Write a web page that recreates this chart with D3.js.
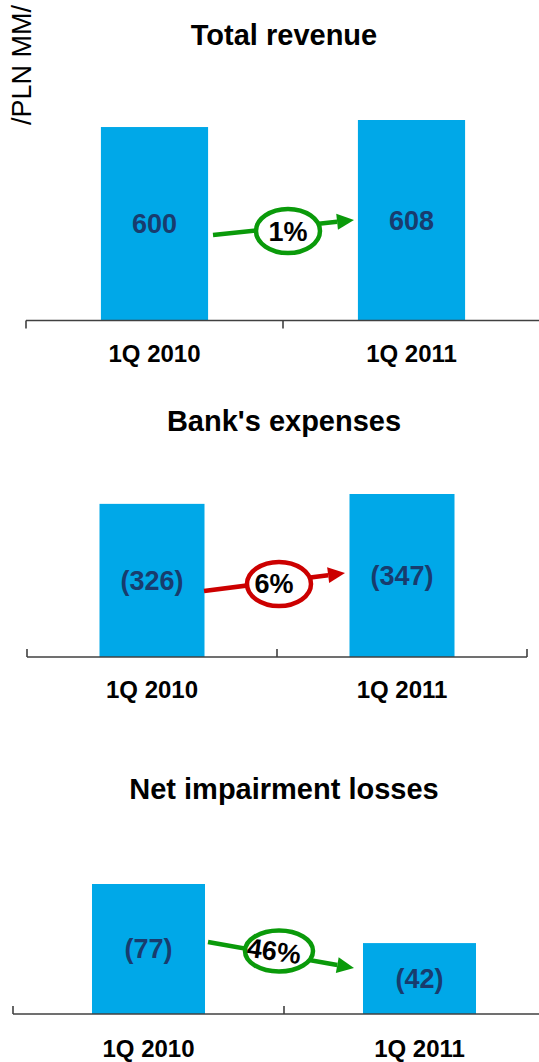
<!DOCTYPE html>
<html>
<head>
<meta charset="utf-8">
<script src="https://cdn.jsdelivr.net/npm/d3@7"></script>
<style>
  html, body { margin: 0; padding: 0; background: #fff; }
  svg { display: block; font-family: "Liberation Sans", Arial, sans-serif; }
</style>
</head>
<body>
<svg id="chart" width="539" height="1062"></svg>
<script>
// Quarterly figures, PLN MM
const categories = ["1Q 2010", "1Q 2011"];
const revenue = [600, 608];
const expenses = [326, 347];
const impairments = [77, 42];
const titles = ["Total revenue", "Bank's expenses", "Net impairment losses"];
const changes = ["1%", "6%", "46%"];
const unitLabel = "/PLN MM/";

const BAR = "#00A8E8";
const VALUE_TXT = "#183C6E";
const GREEN = "#0A9A0A";
const RED = "#CC0000";
const AXIS = "#404040";

const svg = d3.select("#chart");

// Layout of each small chart
const panels = [
  {
    values: revenue, title: titles[0], change: changes[0], paren: false,
    xRange: [26, 540], yBase: 320.5, yTop: 120, yMin: 380,
    titleY: 45, catY: 362, tickDir: 1, pad: 0.583,
    arrow: { color: GREEN, x0: 213, y0: 235, x1: 354, y1: 220, cx: 288, cy: 231, rx: 32, ry: 22, tx: 288, ty: 232, rot: 0 }
  },
  {
    values: expenses, title: titles[1], change: changes[1], paren: true,
    xRange: [27, 527], yBase: 657, yTop: 494, yMin: 0,
    titleY: 431, catY: 698, tickDir: -1, pad: 0.58,
    arrow: { color: RED, x0: 204, y0: 591, x1: 345, y1: 573, cx: 279, cy: 584, rx: 32, ry: 22, tx: 274, ty: 584, rot: 0 }
  },
  {
    values: impairments, title: titles[2], change: changes[2], paren: true,
    xRange: [13, 555], yBase: 1014, yTop: 884, yMin: 0,
    titleY: 799, catY: 1057, tickDir: -1, pad: 0.583,
    arrow: { color: GREEN, x0: 208, y0: 942, x1: 354, y1: 968, cx: 279, cy: 951, rx: 34, ry: 20.5, tx: 274, ty: 951, rot: 8 }
  }
];

panels.forEach(p => {
  const g = svg.append("g");

  const x = d3.scaleBand()
    .domain(categories)
    .range(p.xRange)
    .paddingInner(p.pad)
    .paddingOuter(p.pad / 2);

  const y = d3.scaleLinear()
    .domain([p.yMin, d3.max(p.values)])
    .range([p.yBase, p.yTop]);

  // title
  g.append("text")
    .attr("x", 284).attr("y", p.titleY)
    .attr("text-anchor", "middle")
    .attr("font-size", 29).attr("font-weight", "bold")
    .attr("fill", "#000")
    .text(p.title);

  // bars
  g.selectAll("rect.bar")
    .data(p.values)
    .join("rect")
    .attr("class", "bar")
    .attr("x", (d, i) => x(categories[i]))
    .attr("width", x.bandwidth())
    .attr("y", d => y(d))
    .attr("height", d => p.yBase - y(d))
    .attr("fill", BAR);

  // value labels in the middle of each bar
  g.selectAll("text.val")
    .data(p.values)
    .join("text")
    .attr("class", "val")
    .attr("x", (d, i) => x(categories[i]) + x.bandwidth() / 2)
    .attr("y", d => (y(d) + p.yBase) / 2)
    .attr("dy", "0.35em")
    .attr("text-anchor", "middle")
    .attr("font-size", 27).attr("font-weight", "bold")
    .attr("fill", VALUE_TXT)
    .text(d => p.paren ? `(${d})` : `${d}`);

  // category axis: baseline with ticks on band boundaries
  const [r0, r1] = x.range();
  const step = x.step();
  const bounds = d3.range(categories.length + 1).map(i => r0 + i * step);
  g.append("line")
    .attr("x1", r0).attr("x2", r1)
    .attr("y1", p.yBase).attr("y2", p.yBase)
    .attr("stroke", AXIS).attr("stroke-width", 1.6);
  g.selectAll("line.tick")
    .data(bounds)
    .join("line")
    .attr("class", "tick")
    .attr("x1", d => d).attr("x2", d => d)
    .attr("y1", p.yBase).attr("y2", p.yBase + p.tickDir * 8)
    .attr("stroke", AXIS).attr("stroke-width", 1.6);

  g.selectAll("text.cat")
    .data(categories)
    .join("text")
    .attr("class", "cat")
    .attr("x", d => x(d) + x.bandwidth() / 2)
    .attr("y", p.catY)
    .attr("text-anchor", "middle")
    .attr("font-size", 24).attr("font-weight", "bold")
    .attr("fill", "#000")
    .text(d => d);

  // change arrow with ringed percentage
  const a = p.arrow;
  const ang = Math.atan2(a.y1 - a.y0, a.x1 - a.x0);
  const headLen = 17, headHalf = 8;
  const bx = a.x1 - headLen * Math.cos(ang), by = a.y1 - headLen * Math.sin(ang);
  g.append("line")
    .attr("x1", a.x0).attr("y1", a.y0)
    .attr("x2", bx).attr("y2", by)
    .attr("stroke", a.color).attr("stroke-width", 4.5);
  g.append("path")
    .attr("d", d3.line()([
      [a.x1, a.y1],
      [bx + headHalf * Math.sin(ang), by - headHalf * Math.cos(ang)],
      [bx - headHalf * Math.sin(ang), by + headHalf * Math.cos(ang)]
    ]) + "Z")
    .attr("fill", a.color);
  g.append("ellipse")
    .attr("cx", a.cx).attr("cy", a.cy)
    .attr("rx", a.rx).attr("ry", a.ry)
    .attr("fill", "#fff")
    .attr("stroke", a.color).attr("stroke-width", 4.5);
  g.append("text")
    .attr("transform", `translate(${a.tx},${a.ty}) rotate(${a.rot})`)
    .attr("dy", "0.35em")
    .attr("text-anchor", "middle")
    .attr("font-size", 27).attr("font-weight", "bold")
    .attr("fill", "#000")
    .text(p.change);
});

// unit label, rotated along the left edge
svg.append("text")
  .attr("transform", "translate(31,5) rotate(-90)")
  .attr("text-anchor", "end")
  .attr("font-size", 27)
  .attr("fill", "#000")
  .text(unitLabel);
</script>
</body>
</html>
